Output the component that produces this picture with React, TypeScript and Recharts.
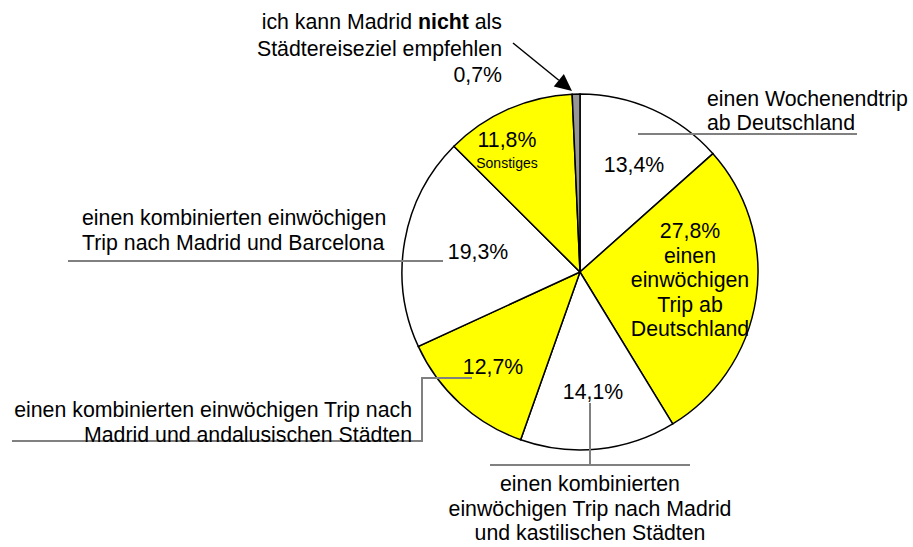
import { PieChart, Pie, Cell } from 'recharts'

const CATEGORIES = [
  'einen Wochenendtrip ab Deutschland',
  'einen einwöchigen Trip ab Deutschland',
  'einen kombinierten einwöchigen Trip nach Madrid und kastilischen Städten',
  'einen kombinierten einwöchigen Trip nach Madrid und andalusischen Städten',
  'einen kombinierten einwöchigen Trip nach Madrid und Barcelona',
  'Sonstiges',
  'ich kann Madrid nicht als Städtereiseziel empfehlen',
]
const SHARES = [13.4, 27.8, 14.1, 12.7, 19.3, 11.8, 0.7]
const FILLS = ['#ffffff', '#ffff00', '#ffffff', '#ffff00', '#ffffff', '#ffff00', '#969696']

const data = CATEGORIES.map((name, i) => ({ name, value: SHARES[i] }))

const FONT = '"Liberation Sans", Arial, sans-serif'
const FS = 21.3
const LEADER = '#808080'

const pct = (v: number) => v.toFixed(1).replace('.', ',') + '%'

// offsets of the in-slice percent labels from the pie center
const INNER: Array<[number, number]> = [
  [54, -107],
  [110, -41],
  [13, 120],
  [-87, 95],
  [-102, -20],
  [-73, -132],
  [0, 0],
]

function Lines({ x, y, lines, anchor, size = FS, gap = 24.5 }: {
  x: number; y: number; lines: string[]; anchor: 'start' | 'middle' | 'end'; size?: number; gap?: number
}) {
  return (
    <text x={x} textAnchor={anchor} fontFamily={FONT} fontSize={size} fill="#000">
      {lines.map((l, i) => (
        <tspan key={i} x={x} y={y + i * gap} dominantBaseline="central">{l}</tspan>
      ))}
    </text>
  )
}

function renderLabel(props: any) {
  const { cx, cy, index, value } = props
  const [dx, dy] = INNER[index]
  const x = cx + dx
  const y = cy + dy
  const t = pct(value)
  switch (index) {
    case 0:
      return (
        <g>
          <Lines x={x} y={y} lines={[t]} anchor="middle" />
          <Lines x={cx + 127} y={cy - 173} lines={['einen Wochenendtrip', 'ab Deutschland']} anchor="start" gap={24} />
          <line x1={cx + 58} y1={cy - 138} x2={cx + 277} y2={cy - 138} stroke={LEADER} strokeWidth={2} />
        </g>
      )
    case 1:
      return <Lines x={x} y={y} lines={[t, 'einen', 'einwöchigen', 'Trip ab', 'Deutschland']} anchor="middle" />
    case 2:
      return (
        <g>
          <Lines x={x} y={y} lines={[t]} anchor="middle" />
          <polyline
            points={`${cx + 10},${cy + 131} ${cx + 10},${cy + 193} ${cx - 90},${cy + 193} ${cx + 110},${cy + 193}`}
            fill="none" stroke={LEADER} strokeWidth={2}
          />
          <Lines
            x={cx + 10} y={cy + 212}
            lines={['einen kombinierten', 'einwöchigen Trip nach Madrid', 'und kastilischen Städten']}
            anchor="middle"
          />
        </g>
      )
    case 3:
      return (
        <g>
          <Lines x={x} y={y} lines={[t]} anchor="middle" />
          <polyline
            points={`${cx - 108},${cy + 106} ${cx - 158},${cy + 106} ${cx - 158},${cy + 169} ${cx - 568},${cy + 169}`}
            fill="none" stroke={LEADER} strokeWidth={2}
          />
          <Lines
            x={cx - 168} y={cy + 138}
            lines={['einen kombinierten einwöchigen Trip nach', 'Madrid und andalusischen Städten']}
            anchor="end"
          />
        </g>
      )
    case 4:
      return (
        <g>
          <Lines x={x} y={y} lines={[t]} anchor="middle" />
          <line x1={cx - 512} y1={cy - 11} x2={cx - 137} y2={cy - 11} stroke={LEADER} strokeWidth={2} />
          <Lines
            x={cx - 498} y={cy - 54}
            lines={['einen kombinierten einwöchigen', 'Trip nach Madrid und Barcelona']}
            anchor="start"
          />
        </g>
      )
    case 5:
      return (
        <g>
          <Lines x={x} y={y} lines={[t]} anchor="middle" />
          <Lines x={x} y={y + 23} lines={['Sonstiges']} anchor="middle" size={14} />
        </g>
      )
    case 6: {
      const tx = cx - 8
      const ty = cy - 181
      const sx = cx - 67
      const sy = cy - 229
      const ang = Math.atan2(ty - sy, tx - sx)
      const L = 17
      const W = 8
      const bx = tx - L * Math.cos(ang)
      const by = ty - L * Math.sin(ang)
      const px = -Math.sin(ang) * W
      const py = Math.cos(ang) * W
      return (
        <g>
          <line x1={sx} y1={sy} x2={bx} y2={by} stroke="#000" strokeWidth={1.5} />
          <polygon points={`${tx},${ty} ${bx + px},${by + py} ${bx - px},${by - py}`} fill="#000" />
          <text x={cx - 78} textAnchor="end" fontFamily={FONT} fontSize={FS} fill="#000">
            <tspan x={cx - 78} y={cy - 250} dominantBaseline="central">
              ich kann Madrid <tspan fontWeight="bold">nicht</tspan> als
            </tspan>
            <tspan x={cx - 78} y={cy - 223} dominantBaseline="central">Städtereiseziel empfehlen</tspan>
            <tspan x={cx - 78} y={cy - 197} dominantBaseline="central">{t}</tspan>
          </text>
        </g>
      )
    }
    default:
      return null
  }
}

export default function App() {
  return (
    <div style={{ position: 'absolute', left: 0, top: 0, width: 913, height: 547, background: '#fff' }}>
      <PieChart width={913} height={547} margin={{ top: 0, right: 0, bottom: 0, left: 0 }}>
        <Pie
          data={data}
          dataKey="value"
          nameKey="name"
          cx={580}
          cy={272}
          outerRadius={178}
          startAngle={90}
          endAngle={-270}
          stroke="#000"
          strokeWidth={1.5}
          label={renderLabel}
          labelLine={false}
          isAnimationActive={false}
        >
          {data.map((_, i) => (
            <Cell key={i} fill={FILLS[i]} />
          ))}
        </Pie>
      </PieChart>
    </div>
  )
}
